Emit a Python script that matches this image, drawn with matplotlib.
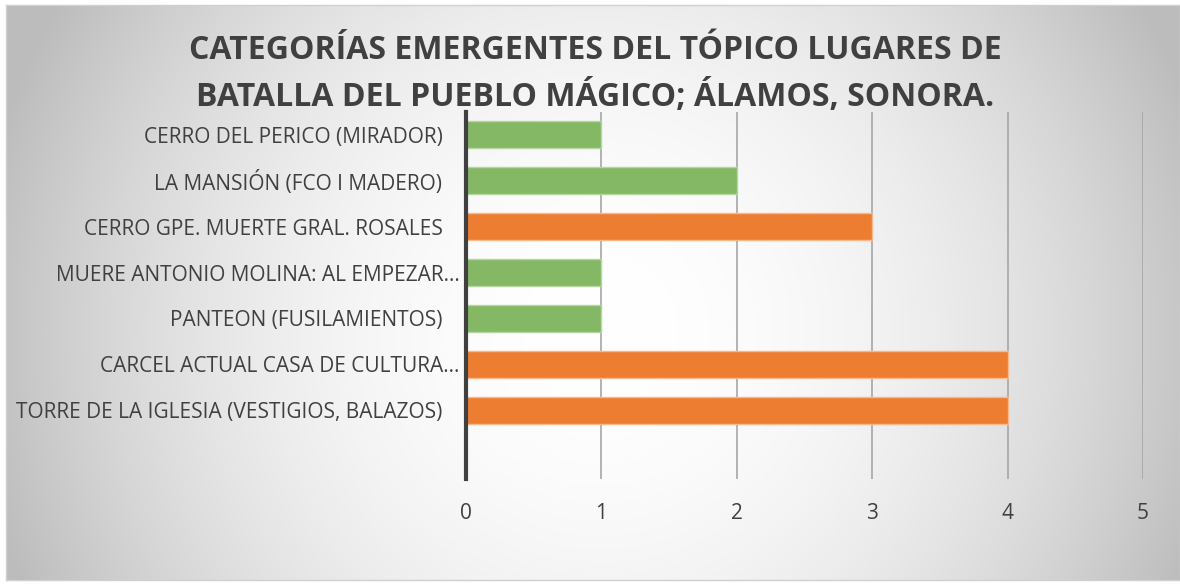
import numpy as np
import matplotlib
matplotlib.use("Agg")
import matplotlib.pyplot as plt
from matplotlib.transforms import ScaledTranslation

categorias = [
    "CERRO DEL PERICO (MIRADOR)",
    "LA MANSIÓN (FCO I MADERO)",
    "CERRO GPE. MUERTE GRAL. ROSALES",
    "MUERE ANTONIO MOLINA: AL EMPEZAR…",
    "PANTEON (FUSILAMIENTOS)",
    "CARCEL ACTUAL CASA DE CULTURA…",
    "TORRE DE LA IGLESIA (VESTIGIOS, BALAZOS)",
    "",
]
valores = [1, 2, 3, 1, 1, 4, 4, 0]
ticks_x = [0, 1, 2, 3, 4, 5]
titulo = "CATEGORÍAS EMERGENTES DEL TÓPICO LUGARES DE\nBATALLA DEL PUEBLO MÁGICO; ÁLAMOS, SONORA."

W, H = 1180, 585
VERDE, VERDE_BORDE = "#84B864", "#B5D6A0"
NARANJA, NARANJA_BORDE = "#ED7D31", "#F6B98E"
TEXTO = "#404040"

plt.rcParams["font.family"] = ["Open Sans", "DejaVu Sans"]

fig = plt.figure(figsize=(W / 100, H / 100), dpi=100)
fig.patch.set_facecolor("white")

# fondo con degradado radial
x0, y0, x1, y1 = 6, 5, 1180, 580
bg = fig.add_axes([x0 / W, 1 - y1 / H, (x1 - x0) / W, (y1 - y0) / H], zorder=-5)
xx, yy = np.meshgrid(np.arange(x0, x1), np.arange(y0, y1))
d = np.hypot(xx - 600, yy - 330) / 580
g = np.clip(1 - 0.22 * d ** 2, 0.74, 1)
bg.imshow(np.dstack([g, g, g]), aspect="auto", extent=[0, 1, 0, 1])
bg.set_xticks([])
bg.set_yticks([])
for s in bg.spines.values():
    s.set_color("#D0D0D0")
    s.set_linewidth(1)

ax = fig.add_axes([466 / W, 1 - 479 / H, (1143 - 466) / W, (479 - 112) / H])
ax.set_facecolor("none")

y = np.arange(len(categorias))
colores = [NARANJA if v >= 3 else VERDE for v in valores]
bordes = [NARANJA_BORDE if v >= 3 else VERDE_BORDE for v in valores]
ax.barh(y, valores, height=0.59, color=colores, edgecolor=bordes, linewidth=1, zorder=3)

ax.set_xlim(0, 5)
ax.set_ylim(len(categorias) - 0.5, -0.5)
ax.set_xticks(ticks_x)
ax.set_yticks(y)
ax.set_yticklabels(categorias)
ax.grid(axis="x", color="#A6A6A6", linewidth=1.2, zorder=0)
ax.tick_params(axis="both", length=0, labelsize=15, colors=TEXTO)
ax.tick_params(axis="y", pad=17)
ax.tick_params(axis="x", pad=17)
for s in ["top", "right", "bottom"]:
    ax.spines[s].set_visible(False)
ax.spines["left"].set_color(TEXTO)
ax.spines["left"].set_linewidth(3)
ax.spines["left"].set_zorder(4)

for lbl in ax.get_yticklabels():
    if lbl.get_text().endswith("…"):
        lbl.set_transform(lbl.get_transform() + ScaledTranslation(17 / 100, 0, fig.dpi_scale_trans))

fig.text(595 / W, 1 - 74 / H, titulo, ha="center", va="center", fontsize=23,
         fontweight="bold", color=TEXTO, linespacing=1.5)

fig.savefig("out.png", dpi=100)
